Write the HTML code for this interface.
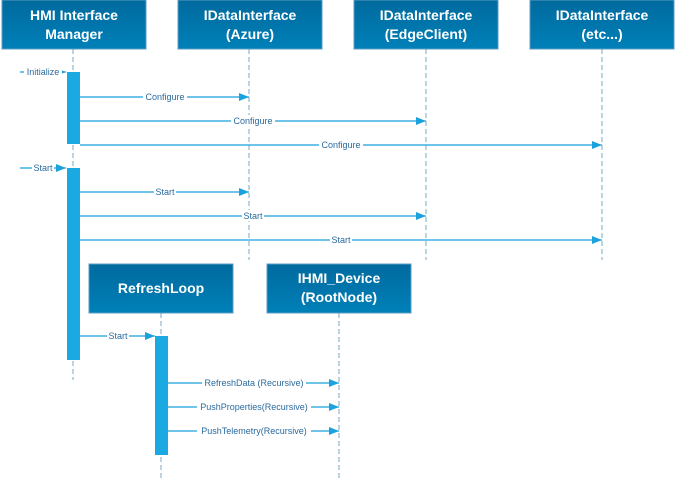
<!DOCTYPE html>
<html><head><style>
body{margin:0;width:676px;height:480px;background:#fff;overflow:hidden}
</style></head><body>
<svg width="676" height="480" xmlns="http://www.w3.org/2000/svg" font-family="Liberation Sans, sans-serif">
<defs>
<linearGradient id="g" x1="0" y1="0" x2="0" y2="1"><stop offset="0" stop-color="#006a9e"/><stop offset="1" stop-color="#0080b8"/></linearGradient>
<marker id="a" markerWidth="10" markerHeight="8" refX="10" refY="4" orient="auto" markerUnits="userSpaceOnUse"><path d="M0,0 L10,4 L0,8 Z" fill="#1ba1dc"/></marker>
</defs>
<g stroke="#7aa9c6" stroke-dasharray="5,3" stroke-width="1">
<line x1="73" y1="49" x2="73" y2="380"/><line x1="249" y1="49" x2="249" y2="260"/>
<line x1="426" y1="49" x2="426" y2="260"/><line x1="602" y1="49" x2="602" y2="260"/>
<line x1="161" y1="313" x2="161" y2="480"/><line x1="339" y1="313" x2="339" y2="480"/>
</g>
<g fill="url(#g)" stroke="#5b9cc4" stroke-width="1">
<rect x="2" y="0" width="144" height="49"/><rect x="178" y="0" width="144" height="49"/>
<rect x="354" y="0" width="144" height="49"/><rect x="530" y="0" width="144" height="49"/>
<rect x="89" y="264" width="144" height="49"/><rect x="267" y="264" width="144" height="49"/>
</g>
<g fill="#fff" font-weight="bold" font-size="14" text-anchor="middle">
<text x="74" y="20">HMI Interface</text><text x="74" y="39">Manager</text>
<text x="250" y="20">IDataInterface</text><text x="250" y="39">(Azure)</text>
<text x="426" y="20">IDataInterface</text><text x="426" y="39">(EdgeClient)</text>
<text x="602" y="20">IDataInterface</text><text x="602" y="39">(etc...)</text>
<text x="161" y="293">RefreshLoop</text>
<text x="339" y="283">IHMI_Device</text><text x="339" y="302">(RootNode)</text>
</g>
<g fill="#1ba9e1">
<rect x="67" y="72" width="13" height="72"/><rect x="67" y="168" width="13" height="192"/>
<rect x="155" y="336" width="13" height="119"/>
</g>
<g stroke="#1ba1dc" stroke-width="1.3" marker-end="url(#a)">
<line x1="20" y1="72" x2="66" y2="72"/>
<line x1="80" y1="97" x2="249" y2="97"/><line x1="80" y1="121" x2="426" y2="121"/><line x1="80" y1="145" x2="602" y2="145"/>
<line x1="20" y1="168" x2="66" y2="168"/>
<line x1="80" y1="192" x2="249" y2="192"/><line x1="80" y1="216" x2="426" y2="216"/><line x1="80" y1="240" x2="602" y2="240"/>
<line x1="80" y1="336" x2="155" y2="336"/>
<line x1="168" y1="383" x2="339" y2="383"/><line x1="168" y1="407" x2="339" y2="407"/><line x1="168" y1="431" x2="339" y2="431"/>
</g>
<g font-size="9" fill="#2a6a9e" text-anchor="middle">
<g fill="#fff"><rect x="24" y="66" width="38" height="11"/><rect x="143" y="91" width="44" height="11"/><rect x="231" y="115" width="44" height="11"/><rect x="319" y="139" width="44" height="11"/><rect x="32" y="162" width="22" height="11"/><rect x="154" y="186" width="22" height="11"/><rect x="242" y="210" width="22" height="11"/><rect x="330" y="234" width="22" height="11"/><rect x="107" y="330" width="22" height="11"/><rect x="202" y="377" width="104" height="11"/><rect x="197" y="401" width="114" height="11"/><rect x="197" y="425" width="114" height="11"/></g>
<text x="43" y="75">Initialize</text>
<text x="165" y="100">Configure</text><text x="253" y="124">Configure</text><text x="341" y="148">Configure</text>
<text x="43" y="171">Start</text>
<text x="165" y="195">Start</text><text x="253" y="219">Start</text><text x="341" y="243">Start</text>
<text x="118" y="339">Start</text>
<text x="254" y="386">RefreshData (Recursive)</text>
<text x="254" y="410">PushProperties(Recursive)</text>
<text x="254" y="434">PushTelemetry(Recursive)</text>
</g>
</svg>
</body></html>
